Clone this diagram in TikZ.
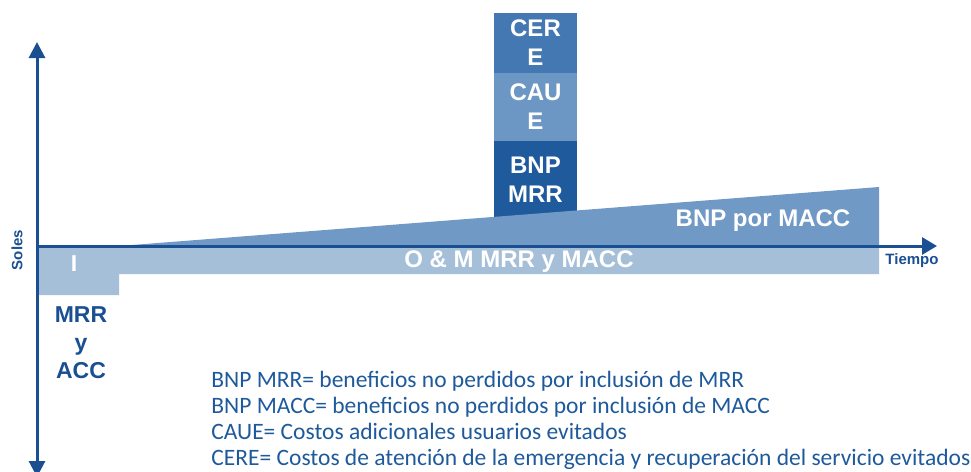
\documentclass[tikz,border=0pt]{standalone}
\usepackage{fontspec}
\setmainfont{Carlito}
\setsansfont{Liberation Sans}
\usepackage{tikz}
\usetikzlibrary{positioning,arrows.meta}

\definecolor{axisblue}{HTML}{1A4F91}
\definecolor{mrrblue}{HTML}{1F5A9C}
\definecolor{cereblue}{HTML}{4478B2}
\definecolor{caueblue}{HTML}{6C97C5}
\definecolor{maccblue}{HTML}{7099C5}
\definecolor{ombar}{HTML}{A6BFD9}
\definecolor{legblue}{HTML}{1E5A9B}

\begin{document}
\begin{tikzpicture}[x=0.5pt, y=-0.5pt,
    stack/.style={rectangle, inner sep=0pt, outer sep=0pt, minimum width=41.5pt,
                  text=white, align=center, font=\sffamily\bfseries\fontsize{12}{14.5}\selectfont},
    lbl/.style={inner sep=0pt, font=\sffamily\bfseries\fontsize{11.5}{14}\selectfont},
    axlbl/.style={inner sep=0pt, text=axisblue, font=\sffamily\bfseries\fontsize{7.5}{9}\selectfont},
    legend/.style={anchor=base west, inner sep=0pt, text=legblue, font=\fontsize{11.75}{13}\selectfont},
    axis/.style={line width=1.5pt, draw=axisblue}]
    \useasboundingbox (0,0) rectangle (971,472);
    % bloques de la columna
    \node[stack, fill=cereblue, minimum height=30pt] (cere) at (535.5,43) {CER\\E};
    \node[stack, fill=caueblue, minimum height=34pt] (caue) [below=0pt of cere] {CAU\\E};
    \node[stack, fill=mrrblue, minimum height=38.5pt] (bnpmrr) [below=0pt of caue] {BNP\\MRR};
    % inversion y O&M
    \fill[ombar] (37,246) -- (879,246) -- (879,274) -- (119,274) -- (119,295) -- (37,295) -- cycle;
    \node[lbl, text=white] (inv) at (74,264) {I};
    \node[lbl, text=white, font=\sffamily\bfseries\fontsize{12}{14}\selectfont] (om) at (519,262) {O \& M MRR y MACC};
    % BNP por MACC
    \fill[maccblue] (119,246) -- (879,187) -- (879,246) -- cycle;
    \node[lbl, text=white, font=\sffamily\bfseries\fontsize{12}{14}\selectfont] (macc) at (763,221) {BNP por MACC};
    \node[lbl, text=axisblue, align=center] (mrracc) at (81,343) {MRR\\y\\ACC};
    % ejes
    \coordinate (o) at (37,246);
    \coordinate (top) at (37,42);
    \coordinate (bot) at (37,477);
    \coordinate (right) at (937,246);
    \draw[axis, {Triangle[width=8pt,length=8pt]}-{Triangle[width=8pt,length=8pt]}] (bot) -- (top);
    \draw[axis, -{Triangle[width=8.5pt,length=7.5pt]}] (o) -- (right);
    \node[axlbl, rotate=90] (soles) at (17,250) {Soles};
    \node[axlbl] (tiempo) at (912,261) {Tiempo};
    % leyenda
    \node[legend] (l1) at (211,387) {BNP MRR= beneficios no perdidos por inclusión de MRR};
    \node[legend] (l2) at (211,413) {BNP MACC= beneficios no perdidos por inclusión de MACC};
    \node[legend] (l3) at (211,439) {CAUE= Costos adicionales usuarios evitados};
    \node[legend] (l4) at (211,465) {CERE= Costos de atención de la emergencia y recuperación del servicio evitados};
\end{tikzpicture}
\end{document}
